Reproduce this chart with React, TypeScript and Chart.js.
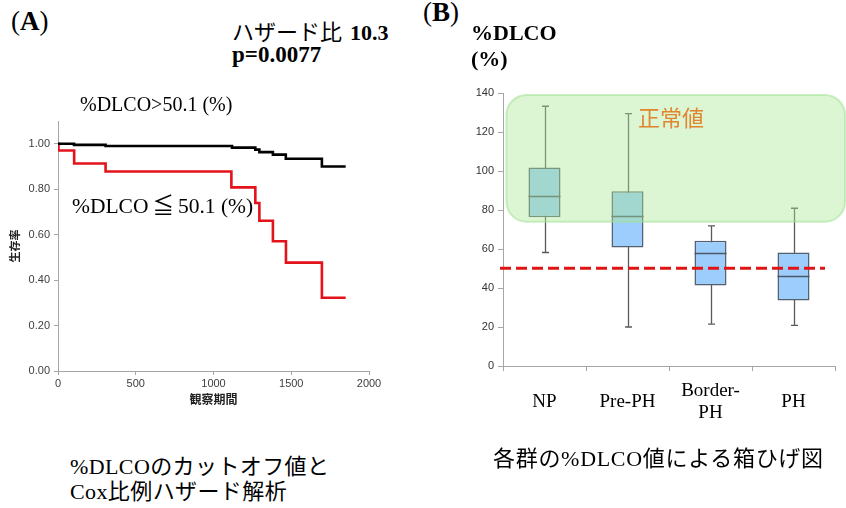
import React, { useEffect, useRef } from 'react';
import { Chart, registerables } from 'chart.js';

Chart.register(...registerables);

// Kaplan–Meier survival: %DLCO > 50.1 (%)
const highDays = [0, 103, 306, 1119, 1269, 1295, 1382, 1465, 1697, 1850];
const highSurvival = [1.0, 0.995, 0.99, 0.983, 0.974, 0.963, 0.952, 0.934, 0.9, 0.9];

// Kaplan–Meier survival: %DLCO ≦ 50.1 (%)
const lowDays = [0, 3, 104, 306, 1115, 1269, 1295, 1382, 1466, 1697, 1850];
const lowSurvival = [1.0, 0.97, 0.913, 0.878, 0.808, 0.739, 0.661, 0.571, 0.477, 0.322, 0.322];

// Box plot of %DLCO by group
const groups: (string | string[])[] = ['NP', 'Pre-PH', ['Border-', 'PH'], 'PH'];
const whiskerLow = [58.2, 20.0, 21.5, 20.8];
const quartile1 = [76.3, 60.8, 41.3, 33.6];
const medians = [87.4, 76.8, 58.1, 45.9];
const quartile3 = [101.8, 89.6, 64.2, 58.2];
const whiskerHigh = [133.2, 129.4, 71.9, 80.9];
const cutoff = 50.1;
const normalRange = [74, 139];

const SERIF = '"Liberation Serif", "Noto Sans CJK JP", serif';
const SANS = '"Liberation Sans", "Noto Sans", sans-serif';
const CJK_SANS = '"Noto Sans CJK JP", sans-serif';

const boxExtras = {
  id: 'boxExtras',
  beforeDatasetsDraw(chart: any) {
    const { ctx } = chart;
    const x = chart.scales.x;
    const y = chart.scales.y;
    ctx.save();
    ctx.strokeStyle = '#5a5a5a';
    ctx.lineWidth = 1.3;
    groups.forEach((_, i) => {
      const cx = Math.round(x.getPixelForValue(i)) + 0.5;
      const lo = y.getPixelForValue(whiskerLow[i]);
      const hi = y.getPixelForValue(whiskerHigh[i]);
      ctx.beginPath();
      ctx.moveTo(cx, lo);
      ctx.lineTo(cx, hi);
      ctx.moveTo(cx - 3.5, lo);
      ctx.lineTo(cx + 3.5, lo);
      ctx.moveTo(cx - 3.5, hi);
      ctx.lineTo(cx + 3.5, hi);
      ctx.stroke();
    });
    ctx.restore();
  },
  afterDatasetsDraw(chart: any) {
    const { ctx, chartArea } = chart;
    const y = chart.scales.y;
    const meta = chart.getDatasetMeta(0);
    ctx.save();
    // medians
    ctx.strokeStyle = '#4e5866';
    ctx.lineWidth = 1.5;
    meta.data.forEach((bar: any, i: number) => {
      const my = Math.round(y.getPixelForValue(medians[i])) + 0.5;
      ctx.beginPath();
      ctx.moveTo(bar.x - bar.width / 2, my);
      ctx.lineTo(bar.x + bar.width / 2, my);
      ctx.stroke();
    });
    // normal range band
    const top = y.getPixelForValue(normalRange[1]);
    const bottom = y.getPixelForValue(normalRange[0]);
    const left = chartArea.left + 3.5;
    const right = chart.width - 1;
    ctx.beginPath();
    ctx.roundRect(left, top, right - left, bottom - top, 20);
    ctx.fillStyle = 'rgba(170, 230, 145, 0.41)';
    ctx.fill();
    ctx.strokeStyle = 'rgba(160, 225, 150, 0.55)';
    ctx.lineWidth = 2;
    ctx.stroke();
    // cut-off line
    const cy = y.getPixelForValue(cutoff);
    ctx.beginPath();
    ctx.setLineDash([11, 5]);
    ctx.strokeStyle = '#e01414';
    ctx.lineWidth = 3;
    ctx.moveTo(chartArea.left - 3, cy);
    ctx.lineTo(chartArea.right - 10, cy);
    ctx.stroke();
    ctx.restore();
  },
};

const abs = (left: number, top: number, extra: React.CSSProperties = {}): React.CSSProperties => ({
  position: 'absolute',
  left,
  top,
  whiteSpace: 'nowrap',
  fontFamily: SERIF,
  color: '#000',
  ...extra,
});

export default function App() {
  const refA = useRef<HTMLCanvasElement>(null);
  const refB = useRef<HTMLCanvasElement>(null);

  useEffect(() => {
    const chartA = new Chart(refA.current!, {
      type: 'line',
      data: {
        datasets: [
          {
            data: highDays.map((d, i) => ({ x: d, y: highSurvival[i] })),
            borderColor: '#000000',
            borderWidth: 2.6,
            stepped: true,
            pointRadius: 0,
            fill: false,
            borderJoinStyle: 'miter',
          },
          {
            data: lowDays.map((d, i) => ({ x: d, y: lowSurvival[i] })),
            borderColor: '#e3121b',
            borderWidth: 2.6,
            stepped: true,
            pointRadius: 0,
            fill: false,
            borderJoinStyle: 'miter',
          },
        ],
      },
      options: {
        responsive: false,
        animation: false,
        devicePixelRatio: 1,
        layout: { padding: { left: 4, top: 21, right: 51, bottom: 9 } },
        plugins: { legend: { display: false }, tooltip: { enabled: false } },
        scales: {
          x: {
            type: 'linear',
            min: 0,
            max: 2000,
            ticks: {
              stepSize: 500,
              color: '#404040',
              font: { family: SANS, size: 11 },
              padding: 2,
              maxRotation: 0,
              callback: (v: any) => String(v),
            },
            grid: { drawOnChartArea: false, tickLength: 4, color: '#a6a6a6' },
            border: { color: '#a6a6a6' },
            title: { display: true, text: '観察期間', color: '#222', font: { family: CJK_SANS, size: 12, weight: 'bold' }, padding: { top: 2, bottom: 4 } },
            afterFit: (s: any) => { s.height = 40; },
          },
          y: {
            min: 0,
            max: 1.1,
            afterBuildTicks: (s: any) => { s.ticks = s.ticks.filter((t: any) => t.value <= 1.0001); },
            ticks: { stepSize: 0.2, color: '#404040', font: { family: SANS, size: 11 }, padding: 4, callback: (v: any) => Number(v).toFixed(2) },
            grid: { drawOnChartArea: false, tickLength: 4, color: '#a6a6a6' },
            border: { color: '#a6a6a6' },
            title: { display: true, text: '生存率', color: '#222', font: { family: CJK_SANS, size: 11, weight: 'bold' }, padding: { top: 4, bottom: 4 } },
            afterFit: (s: any) => { s.width = 54; },
          },
        },
      },
    } as any);

    const chartB = new Chart(refB.current!, {
      type: 'bar',
      data: {
        labels: groups,
        datasets: [
          {
            data: quartile1.map((v, i) => [v, quartile3[i]]),
            backgroundColor: '#9ccdfc',
            borderColor: '#55606e',
            borderWidth: 1.5,
            borderSkipped: false,
            barPercentage: 0.386,
            categoryPercentage: 1,
          },
        ],
      },
      options: {
        responsive: false,
        animation: false,
        devicePixelRatio: 1,
        layout: { padding: { left: 0, top: 23, right: 11, bottom: 82 } },
        plugins: { legend: { display: false }, tooltip: { enabled: false } },
        scales: {
          x: {
            ticks: { color: '#000', font: { family: SERIF, size: 19, lineHeight: 1.15 }, padding: 20, crossAlign: 'center', maxRotation: 0, autoSkip: false },
            grid: { drawOnChartArea: false, tickLength: 5, color: '#a6a6a6', offset: true },
            border: { color: '#a6a6a6' },
            afterFit: (s: any) => { s.height = 60; },
          },
          y: {
            min: 0,
            max: 140,
            ticks: { stepSize: 20, color: '#333', font: { family: SANS, size: 11 }, padding: 4 },
            grid: { drawOnChartArea: false, tickLength: 5, color: '#a6a6a6' },
            border: { color: '#a6a6a6' },
            afterFit: (s: any) => { s.width = 63; },
          },
        },
      },
      plugins: [boxExtras],
    } as any);

    return () => {
      chartA.destroy();
      chartB.destroy();
    };
  }, []);

  return (
    <div style={{ position: 'fixed', left: 0, top: 0, width: 846, height: 508, background: '#fff', overflow: 'hidden' }}>
      <canvas ref={refA} width={420} height={320} style={{ position: 'absolute', left: 0, top: 100, width: 420, height: 320 }} />
      <canvas ref={refB} width={406} height={438} style={{ position: 'absolute', left: 440, top: 70, width: 406, height: 438 }} />

      <div style={abs(11, 8, { fontSize: 27, lineHeight: '27px' })}>
        (<b>A</b>)
      </div>
      <div style={abs(232, 20, { fontSize: 22, lineHeight: '26px' })}>
        ハザード比<span style={{ marginLeft: 8 }} />
        <b style={{ fontSize: 22 }}>10.3</b>
      </div>
      <div style={abs(232, 42, { fontSize: 23, lineHeight: '26px', fontWeight: 'bold' })}>p=0.0077</div>
      <div style={abs(80, 92, { fontSize: 20, lineHeight: '24px' })}>%DLCO&gt;50.1 (%)</div>
      <div style={abs(72, 193, { fontSize: 21.5, lineHeight: '26px' })}>
        %DLCO<span style={{ padding: '0 4px' }}>≦</span>50.1 (%)
      </div>
      <div style={abs(70, 454, { fontSize: 22, lineHeight: '25px', letterSpacing: '0.4px' })}>
        %DLCOのカットオフ値と
        <br />
        Cox比例ハザード解析
      </div>

      <div style={abs(423, -1, { fontSize: 27, lineHeight: '27px' })}>
        (<b>B</b>)
      </div>
      <div style={abs(471, 20, { fontSize: 22, lineHeight: '26px', fontWeight: 'bold' })}>
        %DLCO
        <br />
        (%)
      </div>
      <div style={abs(638, 103, { fontSize: 22, lineHeight: '26px', color: '#e0862f', fontFamily: CJK_SANS })}>正常値</div>
      <div style={abs(493, 446, { fontSize: 22, lineHeight: '25px', letterSpacing: '0.7px' })}>各群の%DLCO値による箱ひげ図</div>
    </div>
  );
}
